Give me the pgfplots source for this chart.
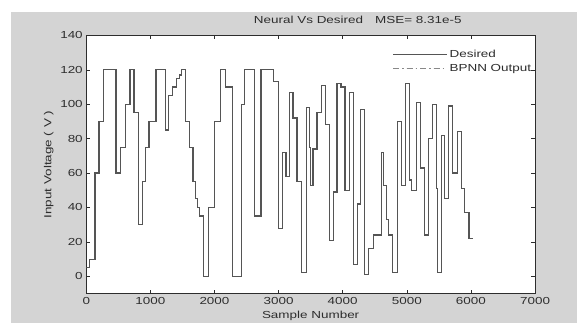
\documentclass[border=0pt]{standalone}
\usepackage{fontspec}
\setmainfont[FakeStretch=1.32]{Liberation Sans}
\usepackage{pgfplots}
\usepackage{pgfplotstable}
\pgfplotsset{compat=1.18}
\definecolor{bg}{RGB}{212,212,212}
\definecolor{txt}{RGB}{45,45,45}
\definecolor{ln}{RGB}{85,85,85}
\newcommand{\ff}{\fontsize{10.2}{11}\selectfont}
\pgfplotstableread{
x y
0 5
47 10
136 60
198 90
266 120
464 60
537 75
615 100
683 120
745 95
813 30
875 55
928 75
980 90
1089 120
1230 85
1287 105
1350 110
1412 115
1454 117
1480 120
1548 90
1605 75
1665 55
1709 45
1735 40
1761 35
1828 0
1906 40
2000 90
2089 120
2178 110
2281 0
2417 100
2469 120
2625 35
2725 120
2922 113
3000 28
3058 72
3115 58
3172 107
3225 92
3287 55
3355 2
3430 98
3480 75
3495 53
3537 74
3600 95
3667 111
3730 88
3792 21
3859 49
3912 112
3974 110
4037 50
4109 107
4172 7
4225 42
4277 97
4344 1
4406 16
4475 24
4600 72
4641 53
4678 33
4719 24
4781 2
4850 90
4912 53
4980 112
5042 56
5068 50
5152 101
5214 63
5277 24
5344 80
5406 100
5464 51
5485 2
5537 82
5589 45
5656 99
5719 60
5787 84
5850 51
5902 37
5969 22
6037 22
}\desired
\begin{document}
\begin{tikzpicture}
\fill[white] (-86.3pt,-29pt) rectangle (491pt,293.7pt);
\fill[bg] (-75.3pt,-29pt) rectangle (491pt,282pt);
\begin{axis}[
  scale only axis, width=449pt, height=258.3pt,
  xmin=0, xmax=7000, ymin=-10, ymax=140,
  xtick={0,1000,...,7000}, ytick={0,20,...,140},
  tick align=inside, major tick length=4pt,
  axis background/.style={fill=white},
  axis line style={draw=txt, line width=0.6pt},
  every tick/.style={draw=txt, line width=0.5pt},
  /pgf/number format/assume math mode=true,
  /pgf/number format/1000 sep={},
  tick label style={font=\ff, text=txt},
  label style={font=\ff, text=txt},
  xlabel={Sample Number}, ylabel={Input Voltage ( V )},
  title={Neural Vs Desired\hspace{12pt}MSE= 8.31e-5},
  title style={at={(0.605,1)}, anchor=base, yshift=6pt, font=\ff, text=txt},
  legend style={at={(rel axis cs:0.676,0.958)}, anchor=north west, draw=none, fill=none, font=\ff, text=txt, row sep=1pt},
  legend cell align=left,
  legend image code/.code={\path (0pt,0pt) -- (54pt,0pt); \draw[#1] (0pt,0pt) -- (48pt,0pt);},
]
\addplot[const plot, draw=ln, line width=1.2pt, line join=miter, forget plot] table[x=x,y=y] {\desired};
\addlegendimage{draw=ln, line width=0.8pt}
\addlegendentry{Desired}
\addlegendimage{draw=ln!70, line width=0.8pt, dash pattern=on 6pt off 3pt on 1.5pt off 3pt}
\addlegendentry{BPNN Output}
\end{axis}
\pgfresetboundingbox
\path[use as bounding box] (-86.3pt,-29pt) rectangle (491pt,293.7pt);
\end{tikzpicture}
\end{document}
